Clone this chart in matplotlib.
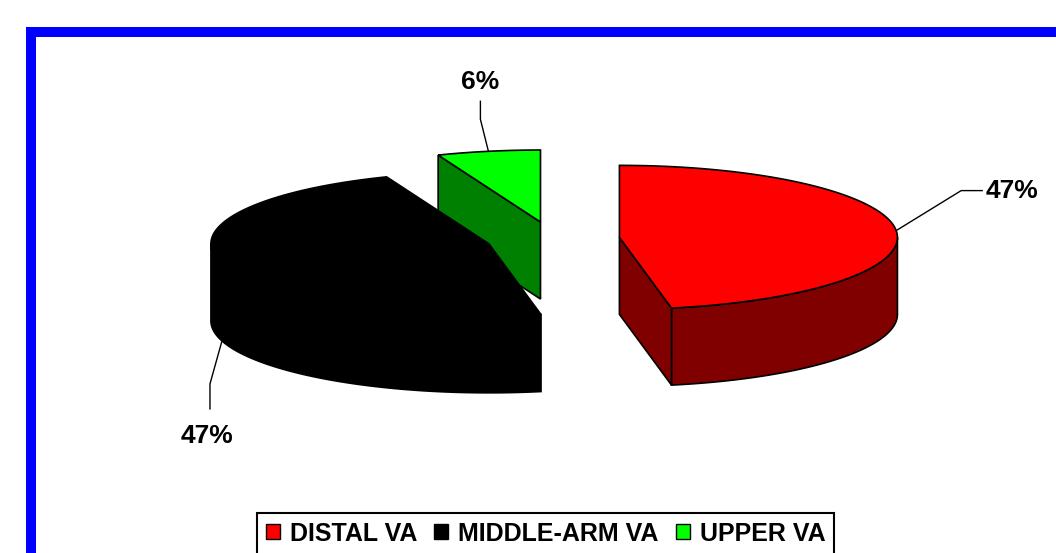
import numpy as np
import matplotlib
matplotlib.use('Agg')
from matplotlib import pyplot as plt
from matplotlib.patches import Polygon, Rectangle, Patch

## Data
labels = ['DISTAL VA', 'MIDDLE-ARM VA', 'UPPER VA']
values = [47, 47, 6]
top_colors = ['#FF0000', '#000000', '#00FF00']
side_colors = ['#800000', '#000000', '#008000']

plt.rcParams['font.family'] = ['Liberation Sans', 'DejaVu Sans']
plt.rcParams['font.weight'] = 'bold'

### 3D pie geometry (pixel-like units)
cx, cy = 553, 239      # pie centre
R, Ry = 278, 72        # ellipse radii
H = 77                 # thickness
explode = 0.24

fig = plt.figure(figsize=(10.56, 5.53), dpi=100)
ax = fig.add_axes([0, 0, 1, 1])
ax.set_xlim(0, 1056)
ax.set_ylim(553, 0)
ax.axis('off')

# blue frame (cut off at right and bottom)
ax.add_patch(Rectangle((26, 27), 1100, 10, facecolor='#0000FF', edgecolor='none'))
ax.add_patch(Rectangle((26, 27), 10, 600, facecolor='#0000FF', edgecolor='none'))

def pt(x0, y0, ang, dy=0):
    a = np.radians(ang)
    return x0 + R * np.cos(a), y0 - Ry * np.sin(a) + dy

total = float(sum(values))
slices = []
cum = 0
for i, v in enumerate(values):
    t2 = 90 - cum / total * 360
    cum += v
    t1 = 90 - cum / total * 360
    mid = np.radians((t1 + t2) / 2)
    x0 = cx + explode * R * np.cos(mid)
    y0 = cy - explode * Ry * np.sin(mid)
    slices.append((i, t1, t2, x0, y0))

# back to front
for i, t1, t2, x0, y0 in sorted(slices, key=lambda s: s[4]):
    ec = 'black'
    # outer wall, front half only
    angs = np.linspace(t1, t2, 200)
    vis = np.sin(np.radians(angs)) <= 0
    if vis.any():
        a = angs[vis]
        top = [pt(x0, y0, g) for g in a]
        bot = [pt(x0, y0, g, H) for g in a[::-1]]
        ax.add_patch(Polygon(top + bot, closed=True, facecolor=side_colors[i], edgecolor=ec, lw=1.2))
    # radial faces
    for t, n in ((t1, t1 - 90), (t2, t2 + 90)):
        if np.sin(np.radians(n)) < -1e-6:
            p = pt(x0, y0, t)
            face = [(x0, y0), p, (p[0], p[1] + H), (x0, y0 + H)]
            ax.add_patch(Polygon(face, closed=True, facecolor=side_colors[i], edgecolor=ec, lw=1.2))
    # top face
    top = [(x0, y0)] + [pt(x0, y0, g) for g in angs]
    ax.add_patch(Polygon(top, closed=True, facecolor=top_colors[i], edgecolor=ec, lw=1.2))

# percentage labels with leader lines
for i, t1, t2, x0, y0 in slices:
    pct = '%d%%' % round(values[i] / total * 100)
    m = (t1 + t2) / 2
    c = np.cos(np.radians(m))
    s = np.sin(np.radians(m))
    if c > 0.7:
        x, y = pt(x0, y0, m)
        ax.plot([x, x + 65, x + 86], [y, y - 40, y - 40], color='black', lw=1)
        ax.text(x + 89, y - 40, pct, ha='left', va='center', fontsize=19, fontweight='bold')
    elif s > 0.7:
        x, y = pt(x0, y0, m)
        ax.plot([x, x - 8, x - 8], [y, y - 32, y - 50], color='black', lw=1)
        ax.text(x - 8, y - 69, pct, ha='center', va='center', fontsize=19, fontweight='bold')
    else:
        x, y = pt(x0, y0, m, H)
        ax.plot([x, x - 12, x - 12], [y, y + 43, y + 68], color='black', lw=1)
        ax.text(x - 15, y + 95, pct, ha='center', va='center', fontsize=19, fontweight='bold')

handles = [Patch(facecolor=top_colors[i], edgecolor='black', lw=1) for i in range(len(labels))]
leg = ax.legend(handles, labels, ncol=3, loc='upper left',
                bbox_to_anchor=(257 / 1056, 1 - 513 / 553), bbox_transform=fig.transFigure,
                borderaxespad=0, fancybox=False, framealpha=1, edgecolor='black',
                prop={'size': 18, 'weight': 'bold'}, handlelength=0.55, handleheight=0.55,
                handletextpad=0.4, columnspacing=0.7, borderpad=0.35)
leg.get_frame().set_linewidth(1.5)

plt.savefig('out.png', dpi=100)
plt.close()
